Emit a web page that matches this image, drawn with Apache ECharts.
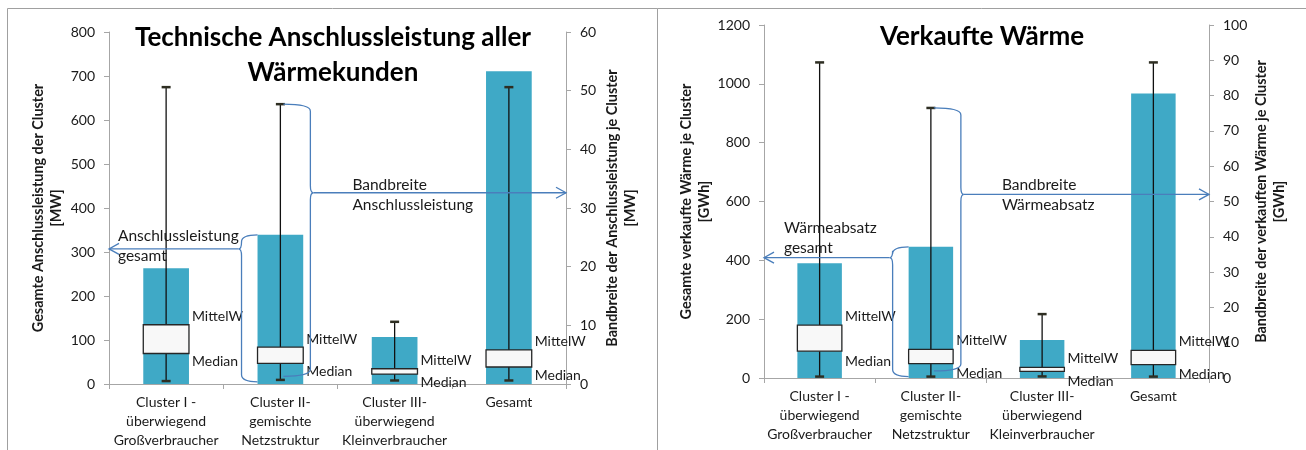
<!DOCTYPE html>
<html><head><meta charset="utf-8">
<script src="https://cdn.jsdelivr.net/npm/echarts@6/dist/echarts.min.js"></script>
<style>html,body{margin:0;padding:0;background:#fff}#c{width:1306px;height:450px}</style>
</head><body><div id="c"></div>
<script>
// ---------------- data ----------------
const categories = ['Cluster I -\nüberwiegend\nGroßverbraucher', 'Cluster II-\ngemischte\nNetzstruktur', 'Cluster III-\nüberwiegend\nKleinverbraucher', 'Gesamt'];

// left chart: Technische Anschlussleistung
const mwAxisLeft = [0, 800, 100];
const mwAxisRight = [0, 60, 10];
const mwTotal = [263, 339, 107, 711];
const mwMin = [0.5, 0.7, 0.6, 0.6];
const mwMedian = [5.2, 3.5, 1.7, 2.9];
const mwMean = [10.1, 6.3, 2.6, 5.8];
const mwMax = [50.6, 47.7, 10.6, 50.6];
// annotation braces: [category, top, bottom, arrow value]
const mwTotalBrace = [1, 339, 5, 307];
const mwRangeBrace = [1, 47.7, 1.3, 32.6];

// right chart: Verkaufte Wärme
const gwhAxisLeft = [0, 1200, 200];
const gwhAxisRight = [0, 100, 10];
const gwhTotal = [390, 446, 129, 967];
const gwhMin = [0.4, 0.4, 0.45, 0.4];
const gwhMedian = [7.6, 4.1, 1.9, 3.8];
const gwhMean = [15.0, 8.1, 3.0, 7.8];
const gwhMax = [89.4, 76.5, 18.1, 89.4];
const gwhTotalBrace = [1, 446, 5, 409];
const gwhRangeBrace = [1, 76.5, 2, 52];

// ---------------- style ----------------
const FONT = 'Lato, "Open Sans", sans-serif';
const TXT = '#1a1a1a';
const AX = '#a6a6a6';
const BAR = '#3fa9c6';
const BLUE = '#4a7ebb';

function txt(text, x, y, align, vAlign, size) {
  return {
    type: 'text',
    style: {
      text: text, x: x, y: y, fill: TXT, font: (size || 14) + 'px ' + FONT,
      align: align, verticalAlign: vAlign, textAlign: align, textVerticalAlign: vAlign,
      lineHeight: 20
    }
  };
}

function boxRender(lblDy1, lblDy2) {
  return function (params, api) {
    const cat = api.value(0);
    const p = v => api.coord([cat, v]);
    const xc = p(0)[0];
    const bw = api.size([1, 0])[0] * 0.4;
    const yMin = p(api.value(1))[1], yMed = p(api.value(2))[1], yMean = p(api.value(3))[1], yMax = p(api.value(4))[1];
    const capStyle = { stroke: '#2e2e22', lineWidth: 2.5 };
    return {
      type: 'group',
      children: [
        { type: 'line', shape: { x1: xc, y1: yMax, x2: xc, y2: yMin }, style: { stroke: '#111', lineWidth: 1.3 } },
        { type: 'line', shape: { x1: xc - 4.5, y1: yMax, x2: xc + 4.5, y2: yMax }, style: capStyle },
        { type: 'line', shape: { x1: xc - 4.5, y1: yMin, x2: xc + 4.5, y2: yMin }, style: capStyle },
        { type: 'rect', shape: { x: xc - bw / 2, y: yMean, width: bw, height: yMed - yMean },
          style: { fill: '#f8f8f8', stroke: '#262626', lineWidth: 1.3 } },
        txt('MittelW', xc + bw / 2 + 3, yMean + lblDy1, 'left', 'middle', 14),
        txt('Median', xc + bw / 2 + 3, yMed + lblDy2, 'left', 'middle', 14)
      ]
    };
  };
}

// side: 'left' brace at bar's left edge pointing to left axis; 'right' brace at whisker pointing to right axis
function braceRender(side, label, textDx, textDy) {
  return function (params, api) {
    const cat = api.value(0);
    const p = v => api.coord([cat, v]);
    const xc = p(0)[0];
    const bw = api.size([1, 0])[0] * 0.4;
    const yT = p(api.value(1))[1], yB = p(api.value(2))[1], yP = p(api.value(3))[1];
    const cs = params.coordSys;
    const r = 7;
    let xEnd, spine, tip, axisX, dir;
    if (side === 'left') {
      xEnd = xc - bw / 2; spine = xEnd - 16; tip = spine - 3; axisX = cs.x; dir = 1;
    } else {
      xEnd = xc + 3; spine = xc + 30; tip = spine + 3; axisX = cs.x + cs.width; dir = -1;
    }
    const path = 'M' + xEnd + ',' + yT +
      ' Q' + spine + ',' + yT + ' ' + spine + ',' + (yT + r) +
      ' L' + spine + ',' + (yP - r) +
      ' Q' + spine + ',' + yP + ' ' + tip + ',' + yP +
      ' Q' + spine + ',' + yP + ' ' + spine + ',' + (yP + r) +
      ' L' + spine + ',' + (yB - r) +
      ' Q' + spine + ',' + yB + ' ' + xEnd + ',' + yB;
    const ls = { stroke: BLUE, lineWidth: 1.3, fill: null };
    const tx = side === 'left' ? axisX + textDx : spine + textDx;
    return {
      type: 'group',
      children: [
        { type: 'path', shape: { pathData: path }, style: ls },
        { type: 'line', shape: { x1: tip, y1: yP, x2: axisX, y2: yP }, style: ls },
        { type: 'polyline', shape: { points: [[axisX + dir * 10, yP - 5.5], [axisX, yP], [axisX + dir * 10, yP + 5.5]] }, style: ls },
        txt(label, tx, yP + textDy, 'left', 'middle', 15.5)
      ]
    };
  };
}

const axisLineStyle = { show: true, lineStyle: { color: AX, width: 1 } };
const axisTick = { show: true, length: 5, lineStyle: { color: AX } };
const axisLabel = { color: TXT, fontSize: 14, fontFamily: FONT, margin: 14, formatter: v => String(v) };
const nameStyle = { color: TXT, fontSize: 14.4, fontWeight: 'bold', fontFamily: FONT, lineHeight: 18 };

function yAx(grid, pos, ax, name, gap) {
  return {
    type: 'value', gridIndex: grid, position: pos, min: ax[0], max: ax[1], interval: ax[2],
    axisLine: axisLineStyle, axisTick: axisTick, axisLabel: axisLabel, splitLine: { show: false },
    name: name, nameLocation: 'middle', nameRotate: 90, nameGap: gap, nameTextStyle: nameStyle
  };
}
function xAx(grid) {
  return {
    type: 'category', gridIndex: grid, data: categories,
    axisLine: axisLineStyle, axisTick: axisTick,
    axisLabel: { color: TXT, fontSize: 14, fontFamily: FONT, margin: 9, lineHeight: 19, interval: 0 }
  };
}

const boxData = (mn, md, me, mx) => categories.map((c, i) => [i, mn[i], md[i], me[i], mx[i]]);

const chart = echarts.init(document.getElementById('c'), null, { renderer: 'canvas' });
chart.setOption({
  animation: false,
  backgroundColor: '#ffffff',
  grid: [
    { left: 109, top: 32, width: 457, height: 352.5 },
    { left: 764, top: 25, width: 445, height: 353 }
  ],
  xAxis: [xAx(0), xAx(1)],
  yAxis: [
    yAx(0, 'left', mwAxisLeft, 'Gesamte Anschlussleistung der Cluster\n[MW]', 44),
    yAx(0, 'right', mwAxisRight, 'Bandbreite der Anschlussleistung je Cluster\n[MW]', 37),
    yAx(1, 'left', gwhAxisLeft, 'Gesamte verkaufte Wärme je Cluster\n[GWh]', 49),
    yAx(1, 'right', gwhAxisRight, 'Bandbreite der verkauften Wärme je Cluster\n[GWh]', 43)
  ],
  series: [
    { type: 'bar', xAxisIndex: 0, yAxisIndex: 0, data: mwTotal, barWidth: '40%', itemStyle: { color: BAR }, z: 2 },
    { type: 'bar', xAxisIndex: 1, yAxisIndex: 2, data: gwhTotal, barWidth: '40%', itemStyle: { color: BAR }, z: 2 },
    { type: 'custom', xAxisIndex: 0, yAxisIndex: 1, data: boxData(mwMin, mwMedian, mwMean, mwMax),
      encode: { x: 0, y: [1, 2, 3, 4] }, renderItem: boxRender(-8, 8), z: 4 },
    { type: 'custom', xAxisIndex: 1, yAxisIndex: 3, data: boxData(gwhMin, gwhMedian, gwhMean, gwhMax),
      encode: { x: 0, y: [1, 2, 3, 4] }, renderItem: boxRender(-9, 10), z: 4 },
    { type: 'custom', xAxisIndex: 0, yAxisIndex: 0, data: [mwTotalBrace], encode: { x: 0, y: [1, 2, 3] },
      renderItem: braceRender('left', 'Anschlussleistung\ngesamt', 9, -3), z: 5 },
    { type: 'custom', xAxisIndex: 0, yAxisIndex: 1, data: [mwRangeBrace], encode: { x: 0, y: [1, 2, 3] },
      renderItem: braceRender('right', 'Bandbreite\nAnschlussleistung', 42, 2), z: 5 },
    { type: 'custom', xAxisIndex: 1, yAxisIndex: 2, data: [gwhTotalBrace], encode: { x: 0, y: [1, 2, 3] },
      renderItem: braceRender('left', 'Wärmeabsatz\ngesamt', 20, -20), z: 5 },
    { type: 'custom', xAxisIndex: 1, yAxisIndex: 3, data: [gwhRangeBrace], encode: { x: 0, y: [1, 2, 3] },
      renderItem: braceRender('right', 'Bandbreite\nWärmeabsatz', 41, 1), z: 5 }
  ],
  graphic: [
    { type: 'polyline', shape: { points: [[7.5, 450], [7.5, 8.5], [657.5, 8.5], [657.5, 450]] }, style: { stroke: '#a0a0a0', lineWidth: 1, fill: null }, z: 0 },
    { type: 'polyline', shape: { points: [[657.5, 8.5], [1306, 8.5]] }, style: { stroke: '#a0a0a0', lineWidth: 1, fill: null }, z: 0 },
    { type: 'text', style: { text: 'Technische Anschlussleistung aller\nWärmekunden', x: 333, y: 55, font: 'bold 26px ' + FONT, fill: '#000',
      align: 'center', verticalAlign: 'middle', textAlign: 'center', textVerticalAlign: 'middle', lineHeight: 35 }, z: 10 },
    { type: 'text', style: { text: 'Verkaufte Wärme', x: 982, y: 37, font: 'bold 26px ' + FONT, fill: '#000',
      align: 'center', verticalAlign: 'middle', textAlign: 'center', textVerticalAlign: 'middle' }, z: 10 }
  ]
});
</script></body></html>
